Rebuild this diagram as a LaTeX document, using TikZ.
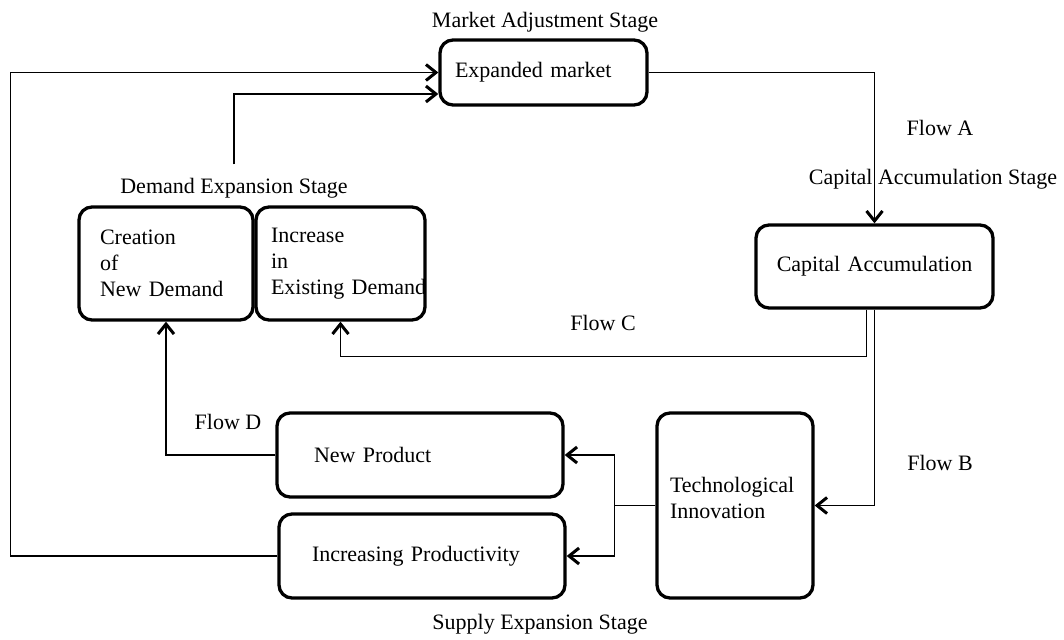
\documentclass[tikz,border=0pt]{standalone}
\usepackage{fontspec}
\setmainfont{Liberation Serif}
\usetikzlibrary{arrows.meta}
\begin{document}
\begin{tikzpicture}[x=1pt, y=-1pt, every node/.style = {align=left, font=\fontsize{22}{26}\selectfont}, >={Straight Barb[length=10pt,width=16pt,line width=3pt]}]
	\tikzstyle{box}=[draw, rounded corners=13pt, line width=3.3pt, inner ysep=0pt]
	\tikzstyle{flow}=[->, line width=1.4pt]
	\useasboundingbox (0,0) rectangle (1064,639);
	\node[box, minimum height=65pt, text width=177pt, inner xsep=15pt] (market) at (543.5,72.5) {Expanded market};
	\node[box, minimum height=83pt, text width=207pt, inner xsep=15pt, align=center] (cap) at (874.5,266.5) {Capital Accumulation};
	\node[box, minimum height=113pt, text width=132pt, inner xsep=21pt] (create) at (166,263.5) {Creation\\of\\New Demand};
	\node[box, minimum height=113pt, text width=139pt, inner xsep=15pt] (incr) at (340.5,263.5) {Increase\\in\\\mbox{Existing Demand}};
	\node[box, minimum height=185pt, text width=130pt, inner xsep=13pt] (tech) at (735,505.5) {Technological\\Innovation\\[-10pt]\mbox{}};
	\node[box, minimum height=84pt, text width=212pt, inner xsep=37pt] (newp) at (420,455) {New Product};
	\node[box, minimum height=84pt, text width=220pt, inner xsep=33pt] (prod) at (422,556) {Increasing Productivity};
	\node (mstage) at (545,22) {Market Adjustment Stage};
	\node (cstage) at (933,179) {Capital Accumulation Stage};
	\node (dstage) at (234,188) {Demand Expansion Stage};
	\node (sstage) at (540,624) {Supply Expansion Stage};
	\node (flowa) at (940,128) {Flow A};
	\node (flowb) at (940,463) {Flow B};
	\node (flowc) at (603,323) {Flow C};
	\node (flowd) at (228,422) {Flow D};
	\draw[flow] (market.east) -| (cap.north);
	\draw[flow] (cap.south) |- (tech.east);
	\draw[flow] ([xshift=-8pt]cap.south) -- ++(0,47) -| (incr.south);
	\draw[flow] (tech.west) -- ++(-41,0) |- (newp.east);
	\draw[flow] (tech.west) -- ++(-41,0) |- (prod.east);
	\draw[flow] (newp.west) -| (create.south);
	\draw[flow] (prod.west) -- ++(-267,0) |- (market.west);
	\draw[flow] ([yshift=10pt]dstage.north) |- ([yshift=-21.5pt]market.west);
\end{tikzpicture}
\end{document}
